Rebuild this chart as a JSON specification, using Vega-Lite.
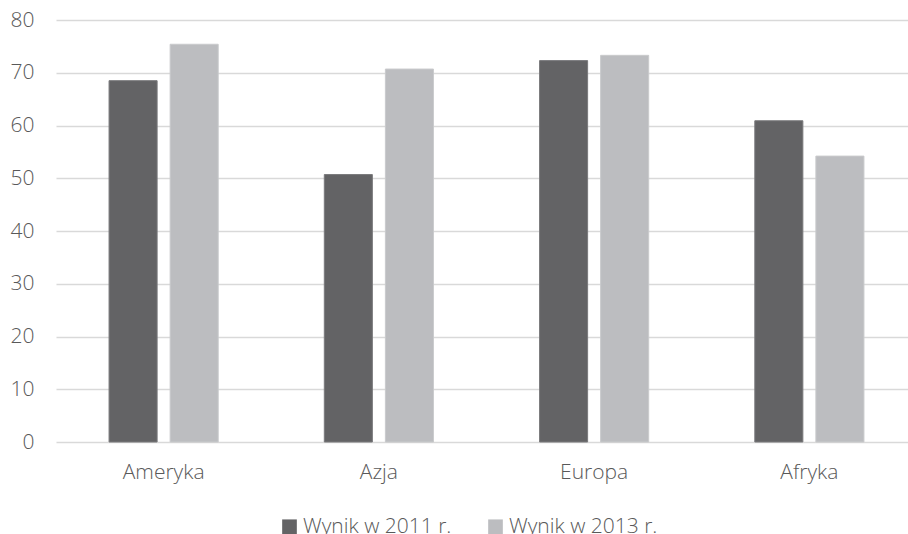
{
  "$schema": "https://vega.github.io/schema/vega-lite/v6.json",
  "autosize": "none",
  "width": 852,
  "height": 422,
  "padding": {"left": 56, "top": 20, "right": 0, "bottom": 92},
  "background": "white",
  "config": {
    "font": "Open Sans",
    "view": {"stroke": null},
    "axis": {"labelFont": "Open Sans", "labelColor": "#595959", "labelFontSize": 21, "labelFontWeight": 300}
  },
  "data": {
    "values": [
      {"region": "Ameryka", "series": "Wynik w 2011 r.", "value": 68.5},
      {"region": "Ameryka", "series": "Wynik w 2013 r.", "value": 75.4},
      {"region": "Azja", "series": "Wynik w 2011 r.", "value": 50.7},
      {"region": "Azja", "series": "Wynik w 2013 r.", "value": 70.7},
      {"region": "Europa", "series": "Wynik w 2011 r.", "value": 72.3},
      {"region": "Europa", "series": "Wynik w 2013 r.", "value": 73.3},
      {"region": "Afryka", "series": "Wynik w 2011 r.", "value": 60.9},
      {"region": "Afryka", "series": "Wynik w 2013 r.", "value": 54.2}
    ]
  },
  "mark": {"type": "bar", "strokeWidth": 1},
  "encoding": {
    "x": {
      "field": "region",
      "type": "nominal",
      "sort": ["Ameryka", "Azja", "Europa", "Afryka"],
      "scale": {"range": [0, 861], "paddingInner": 0.493, "paddingOuter": 0.2465},
      "axis": {"title": null, "labelAngle": 0, "domain": false, "ticks": false, "labelPadding": 19}
    },
    "xOffset": {
      "field": "series",
      "type": "nominal",
      "scale": {"paddingInner": 0.213, "paddingOuter": 0}
    },
    "y": {
      "field": "value",
      "type": "quantitative",
      "scale": {"domain": [0, 80], "nice": false},
      "axis": {
        "title": null,
        "values": [0, 10, 20, 30, 40, 50, 60, 70, 80],
        "domain": false,
        "ticks": false,
        "labelPadding": 22,
        "gridColor": "#d9d9d9",
        "gridWidth": 1.5
      }
    },
    "color": {
      "field": "series",
      "type": "nominal",
      "scale": {"range": ["#636365", "#bcbdc0"]},
      "legend": {
        "title": null,
        "orient": "none",
        "direction": "horizontal",
        "legendX": 223,
        "legendY": 496,
        "symbolType": "square",
        "symbolSize": 215,
        "symbolStrokeWidth": 0,
        "labelFontSize": 21,
        "labelFontWeight": 300,
        "labelColor": "#595959",
        "labelFont": "Open Sans",
        "labelOffset": 3,
        "columnPadding": 33
      }
    },
    "stroke": {
      "field": "series",
      "type": "nominal",
      "scale": {"range": ["#7a7a7c", "#c9cacc"]},
      "legend": null
    }
  }
}
